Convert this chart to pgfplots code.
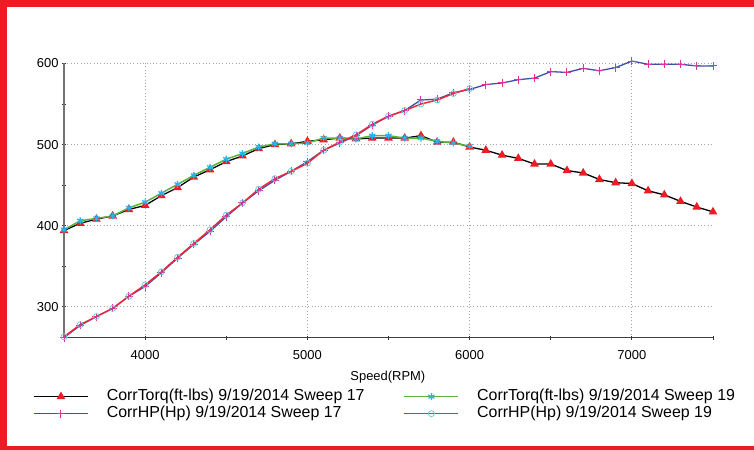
\documentclass[border=0pt]{standalone}
\usepackage{fontspec}
\setmainfont{Liberation Sans}
\usepackage{pgfplots}
\usepackage{pgfplotstable}
\pgfplotsset{compat=1.18}
\definecolor{framered}{RGB}{237,28,36}
\definecolor{tred}{RGB}{237,28,36}
\definecolor{tblue}{RGB}{60,80,170}
\definecolor{tmag}{RGB}{220,50,160}
\definecolor{tgreen}{RGB}{90,180,60}
\definecolor{tcyan}{RGB}{40,180,230}
\definecolor{tredline}{RGB}{240,40,60}
\definecolor{tcircle}{RGB}{110,200,215}

\pgfplotstableread{
rpm val
3500 394
3600 403
3700 408
3800 412
3900 420
4000 425
4100 437
4200 447
4300 460
4400 469
4500 479
4600 486
4700 495
4800 500
4900 501
5000 504
5100 506
5200 508
5300 507
5400 508
5500 508
5600 508
5700 511
5800 503
5900 503
6000 497
6100 493
6200 487
6300 483
6400 476
6500 476
6600 468
6700 465
6800 457
6900 453
7000 452
7100 443
7200 438
7300 430
7400 423
7500 417
}\torqA

\pgfplotstableread{
rpm val
3500 395
3600 406
3700 409
3800 412
3900 422
4000 429
4100 440
4200 451
4300 462
4400 472
4500 482
4600 489
4700 497
4800 501
4900 501
5000 502
5100 508
5200 508
5300 507
5400 511
5500 511
5600 508
5700 508
5800 504
5900 502
6000 498
}\torqB

\pgfplotstableread{
rpm val
3500 262
3600 277
3700 288
3800 298
3900 313
4000 325
4100 342
4200 360
4300 377
4400 393
4500 411
4600 428
4700 443
4800 456
4900 467
5000 479
5100 493
5200 502
5300 511
5400 524
5500 535
5600 542
5700 555
5800 556
5900 564
6000 568
6100 574
6200 576
6300 580
6400 582
6500 590
6600 589
6700 594
6800 591
6900 595
7000 603
7100 599
7200 599
7300 599
7400 597
7500 597
}\hpA

\pgfplotstableread{
rpm val
3500 263
3600 278
3700 288
3800 298
3900 313
4000 327
4100 343
4200 361
4300 378
4400 395
4500 413
4600 428
4700 445
4800 458
4900 467
5000 477
5100 493
5200 503
5300 512
5400 525
5500 535
5600 542
5700 550
5800 555
5900 563
6000 569
}\hpB

\begin{document}
\begin{tikzpicture}
\useasboundingbox (0,0) rectangle (754bp,450bp);
\fill[white] (0,0) rectangle (754bp,450bp);
\fill[framered] (0,443bp) rectangle (754bp,450bp);
\fill[framered] (0,0) rectangle (7bp,450bp);
\fill[framered] (0,0) rectangle (754bp,4bp);
\begin{axis}[
  at={(64bp,112bp)}, anchor=south west,
  scale only axis, width=649bp, height=274.5bp,
  xmin=3500, xmax=7500, ymin=261.5, ymax=600,
  clip=false,
  axis x line=bottom, axis y line=left,
  axis line style={-},
  x axis line style={black!75, line width=1bp},
  y axis line style={black!55, line width=1.3bp},
  xtick={4000,5000,6000,7000}, minor xtick={3500,4500,5500,6500,7500},
  ytick={300,400,500,600}, minor ytick={350,450,550},
  tick align=center, major tick length=4bp, minor tick length=4bp,
  tick style={black!80, line width=0.8bp},
  xmajorgrids, ymajorgrids,
  major grid style={gray!70, line width=1bp, dash pattern=on 1bp off 2.3bp},
  ticklabel style={font=\fontsize{13}{15}\selectfont},
  xticklabel style={anchor=base, yshift=-20bp},
  /pgf/number format/assume math mode=true,
  /pgf/number format/set thousands separator={},
  xlabel={Speed(RPM)},
  xlabel style={font=\fontsize{13}{15}\selectfont, at={(axis description cs:0.499,0)}, anchor=base, yshift=-42bp},
  legend columns=2,
  legend cell align=left,
  legend style={draw=none, fill=none, inner sep=0pt, row sep=0pt,
    at={(axis description cs:-0.0478,-0.182)}, anchor=north west,
    font=\fontsize{16}{17}\selectfont,
    nodes={inner sep=1bp, text height=11.5bp, text depth=3.5bp},
    /tikz/every odd column/.append style={column sep=17bp},
    /tikz/every even column/.append style={column sep=38bp}},
]
\addplot[color=black, line width=1.3bp, mark=triangle*, mark size=3.8bp,
  mark options={fill=tred, draw=tred, solid},
  legend image code/.code={
    \draw[black, line width=1.6bp] (0bp,0bp) -- (54bp,0bp);
    \path[fill=tred, draw=tred] plot[mark=triangle*, mark size=3.8bp] coordinates {(27bp,0bp)};}]
  table[x=rpm, y=val] {\torqA};
\addlegendentry{CorrTorq(ft-lbs) 9/19/2014 Sweep 17}
\addplot[color=tgreen, line width=1.5bp, mark=asterisk, mark size=3.5bp,
  mark options={draw=tcyan, line width=1.2bp, solid},
  legend image code/.code={
    \draw[tgreen, line width=1.6bp] (0bp,0bp) -- (54bp,0bp);
    \path[draw=tcyan, line width=1.2bp] plot[mark=asterisk, mark size=3.5bp] coordinates {(27bp,0bp)};}]
  table[x=rpm, y=val] {\torqB};
\addlegendentry{CorrTorq(ft-lbs) 9/19/2014 Sweep 19}
\addplot[color=tblue, line width=1.3bp, mark=+, mark size=4bp,
  mark options={draw=tmag, line width=1bp, solid},
  legend image code/.code={
    \draw[tblue, line width=1.6bp] (0bp,0bp) -- (54bp,0bp);
    \path[draw=tmag, line width=1bp] plot[mark=+, mark size=4bp] coordinates {(27bp,0bp)};}]
  table[x=rpm, y=val] {\hpA};
\addlegendentry{CorrHP(Hp) 9/19/2014 Sweep 17}
\addplot[color=tredline, line width=1.5bp, mark=o, mark size=3bp,
  mark options={draw=tcircle, line width=0.8bp, solid},
  legend image code/.code={
    \draw[tredline, line width=1.6bp] (0bp,0bp) -- (54bp,0bp);
    \path[draw=tcircle, fill=white, line width=0.8bp] plot[mark=o, mark size=3bp] coordinates {(27bp,0bp)};}]
  table[x=rpm, y=val] {\hpB};
\addlegendentry{CorrHP(Hp) 9/19/2014 Sweep 19}
\end{axis}
\end{tikzpicture}
\end{document}
